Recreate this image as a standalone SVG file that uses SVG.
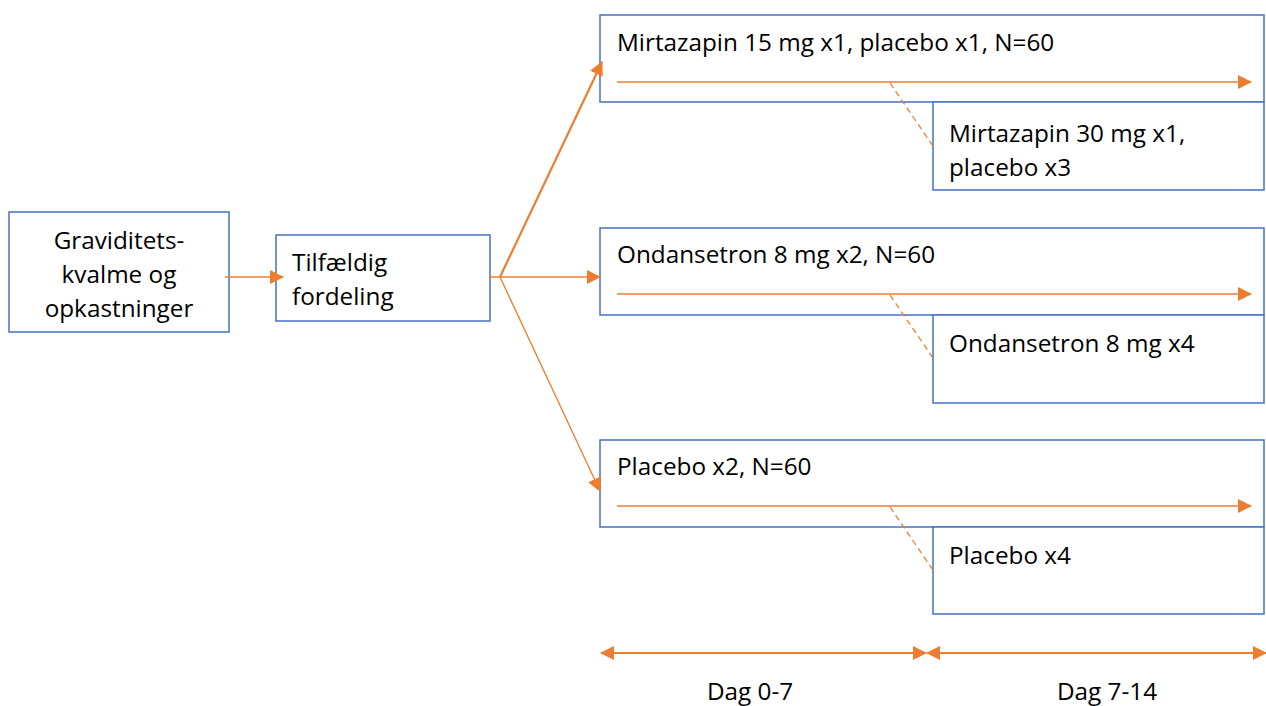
<svg xmlns="http://www.w3.org/2000/svg" width="1266" height="706" viewBox="0 0 1266 706">
<style>
.box{fill:#fff;stroke:#4472C4;stroke-width:1.5}
.t{font-family:"Open Sans","Liberation Sans",sans-serif;font-size:24.3px;fill:#000}
.c{stroke:#ED7D31;stroke-width:1.3;fill:none}
.d{stroke:#ED7D31;stroke-width:1.3;fill:none;stroke-dasharray:6,4}
</style>
<defs>
<marker id="ah2" markerWidth="14" markerHeight="14" refX="13" refY="7" orient="auto" markerUnits="userSpaceOnUse" viewBox="0 0 14 14"><path d="M0,0 L14,7 L0,14 z" fill="#ED7D31"/></marker>
<marker id="as" markerWidth="14" markerHeight="14" refX="1" refY="7" orient="auto" markerUnits="userSpaceOnUse" viewBox="0 0 14 14"><path d="M14,0 L0,7 L14,14 z" fill="#ED7D31"/></marker>
</defs>
<g id="n1"><rect class="box" x="9" y="212" width="220" height="120"/>
<text class="t" text-anchor="middle" x="119" y="249">Graviditets-</text>
<text class="t" text-anchor="middle" x="119" y="283">kvalme og</text>
<text class="t" text-anchor="middle" x="119" y="317">opkastninger</text></g>
<g id="n2"><rect class="box" x="276" y="235" width="214" height="86"/>
<text class="t" x="292" y="271">Tilfældig</text>
<text class="t" x="292" y="305">fordeling</text></g>
<g id="a1"><rect class="box" x="600" y="15" width="664" height="87"/>
<text class="t" x="617" y="51">Mirtazapin 15 mg x1, placebo x1, N=60</text></g>
<g id="a2"><rect class="box" x="933" y="102" width="331" height="88"/>
<text class="t" x="949" y="142">Mirtazapin 30 mg x1,</text>
<text class="t" x="949" y="176">placebo x3</text></g>
<g id="b1"><rect class="box" x="600" y="228" width="664" height="87"/>
<text class="t" x="617" y="263">Ondansetron 8 mg x2, N=60</text></g>
<g id="b2"><rect class="box" x="933" y="315" width="331" height="88"/>
<text class="t" x="949" y="352">Ondansetron 8 mg x4</text></g>
<g id="c1"><rect class="box" x="600" y="440" width="664" height="87"/>
<text class="t" x="617" y="475">Placebo x2, N=60</text></g>
<g id="c2"><rect class="box" x="933" y="527" width="331" height="87"/>
<text class="t" x="949" y="564">Placebo x4</text></g>
<g id="labels">
<text class="t" text-anchor="middle" x="750" y="700">Dag 0-7</text>
<text class="t" text-anchor="middle" x="1107" y="700">Dag 7-14</text></g>
<g id="connectors">
<line class="c" x1="225" y1="277" x2="283" y2="277" marker-end="url(#ah2)"/>
<polyline class="c" points="490,277 500,277 600,277" marker-end="url(#ah2)"/>
<line class="c" x1="500" y1="277" x2="602" y2="62" style="stroke-width:2.2" marker-end="url(#ah2)"/>
<line class="c" x1="500" y1="277" x2="600" y2="491" marker-end="url(#ah2)"/>
<line class="c" x1="617" y1="82" x2="1251" y2="82" marker-end="url(#ah2)"/>
<line class="c" x1="617" y1="294" x2="1251" y2="294" marker-end="url(#ah2)"/>
<line class="c" x1="617" y1="506" x2="1251" y2="506" marker-end="url(#ah2)"/>
<line class="d" x1="890" y1="83" x2="933" y2="146"/>
<line class="d" x1="890" y1="295" x2="933" y2="358"/>
<line class="d" x1="890" y1="507" x2="933" y2="570"/>
<line class="c" x1="601" y1="653" x2="926" y2="653" style="stroke-width:2" marker-start="url(#as)" marker-end="url(#ah2)"/>
<line class="c" x1="927" y1="653" x2="1266" y2="653" style="stroke-width:2" marker-start="url(#as)" marker-end="url(#ah2)"/>
</g>
</svg>
